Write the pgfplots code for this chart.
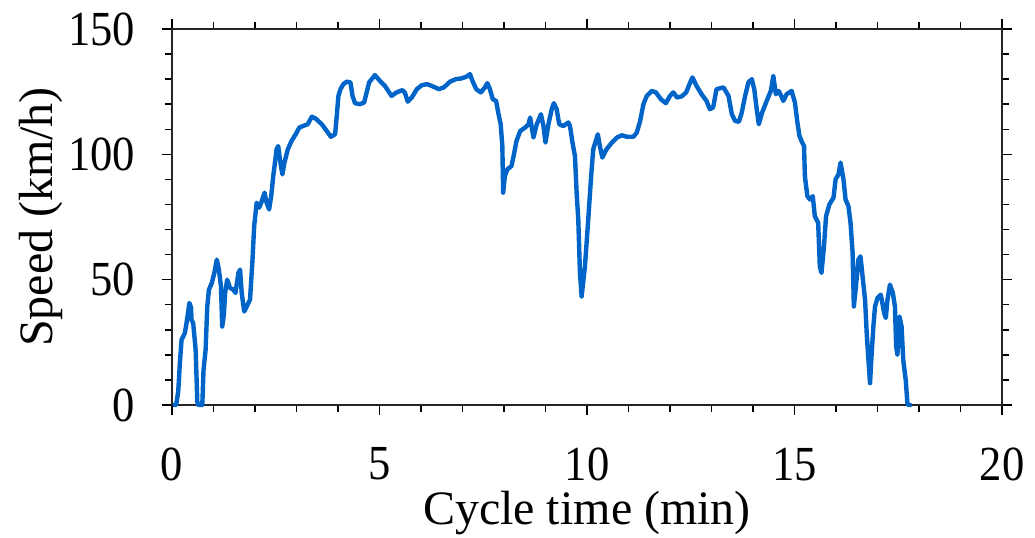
\documentclass[border=0pt]{standalone}
\usepackage{fontspec}
\setmainfont{Liberation Serif}
\newfontfamily\tickfont[FakeStretch=0.91]{Liberation Serif}
\usepackage{pgfplots}
\pgfplotsset{compat=1.18}
\definecolor{speedblue}{RGB}{0,100,200}
\newcommand\bigf{\fontsize{24bp}{28bp}\selectfont}
\newcommand\tickf{\tickfont\fontsize{24.5bp}{28bp}\selectfont}
\begin{document}
\begin{tikzpicture}
\begin{axis}[
  scale only axis,
  width=415bp, height=188bp,
  xmin=0, xmax=20, ymin=0, ymax=150,
  xtick={0,5,10,15,20}, ytick={0,50,100,150},
  minor x tick num=4, minor y tick num=4,
  tick align=outside,
  major tick length=5bp, minor tick length=3.5bp,
  every tick/.style={black, line width=0.7bp},
  axis line style={line width=1bp, black!85},
  /pgf/number format/assume math mode=true,
  tick label style={font=\tickf},
  xticklabel style={inner sep=0pt, yshift=-16.2bp},
  yticklabel style={xshift=-10bp},
  xlabel={Cycle time (min)},
  ylabel={Speed (km/h)},
  label style={font=\bigf, inner sep=0pt},
  xlabel style={at={(axis description cs:0.5,-0.286)}, anchor=center},
  ylabel style={at={(axis description cs:-0.158,0.5)}, anchor=center, rotate=0},
  clip=false,
]
\addplot[speedblue, line width=2.2bp, line join=round] coordinates {
(0.03,0) (0.10,0) (0.15,5.3) (0.19,16.7) (0.23,26) (0.31,28.7) (0.35,32.7) (0.42,40.7) (0.46,38.8) (0.47,34) (0.51,32.7) (0.57,22) (0.61,1.3) (0.63,0) (0.73,0) (0.76,14) (0.81,22) (0.85,39.3) (0.89,46) (0.96,48.7) (1.02,52.7) (1.08,58) (1.13,54) (1.18,47.3) (1.21,31.3) (1.25,36) (1.28,44.7) (1.33,50) (1.40,46.7) (1.48,46) (1.53,44.7) (1.60,52.7) (1.64,54) (1.68,44.7) (1.74,37.3) (1.80,39.3) (1.88,42) (1.94,58) (1.98,71.3) (2.04,80.7) (2.10,78.7) (2.15,80.7) (2.23,84.7) (2.28,80.7) (2.34,78) (2.39,83.3) (2.44,91.3) (2.52,102) (2.56,103.3) (2.60,98) (2.66,92) (2.71,96.7) (2.79,102) (2.88,105.3) (2.98,108) (3.07,110.7) (3.16,111.3) (3.27,112) (3.37,115) (3.46,114.3) (3.61,112) (3.73,109.3) (3.83,107) (3.93,108) (3.97,115.3) (4.01,123.3) (4.06,126) (4.13,128) (4.21,129) (4.30,128.7) (4.35,123.3) (4.41,120.4) (4.53,120) (4.63,120.7) (4.69,124.7) (4.75,128.7) (4.89,131.6) (5.01,129.3) (5.13,127.3) (5.29,123.3) (5.41,124.7) (5.55,125.6) (5.61,124.7) (5.68,121) (5.78,122.7) (5.90,126) (6.02,127.6) (6.15,128) (6.30,127) (6.43,126) (6.55,126.7) (6.70,129) (6.84,130) (6.98,130.3) (7.10,131) (7.18,132) (7.24,129.3) (7.33,126) (7.44,124.7) (7.54,126.7) (7.60,128.4) (7.66,126) (7.73,122) (7.81,121.3) (7.86,116.7) (7.92,112) (7.96,103.3) (7.98,84.7) (8.02,91.3) (8.08,94) (8.18,95.3) (8.24,100) (8.30,105.3) (8.39,109.3) (8.51,110.7) (8.59,112) (8.63,114.7) (8.71,106.7) (8.79,112) (8.89,116) (8.95,111.3) (9.00,104.7) (9.07,112) (9.15,118) (9.20,120.4) (9.27,118) (9.33,112) (9.43,111.3) (9.55,112.7) (9.59,111.3) (9.65,104.7) (9.71,99.3) (9.75,84.7) (9.79,74) (9.83,52.7) (9.87,43.3) (9.95,55.3) (10.03,74) (10.10,91.3) (10.15,102) (10.26,108) (10.31,103.3) (10.37,98.7) (10.47,102) (10.60,104.7) (10.72,106.7) (10.84,107.6) (10.96,107) (11.12,107) (11.20,108.7) (11.28,113.3) (11.36,120) (11.44,123.3) (11.56,125.3) (11.66,124.7) (11.78,122) (11.90,120.4) (12.00,123.3) (12.08,124.7) (12.17,122.7) (12.28,123.1) (12.39,124.7) (12.47,128) (12.54,130.7) (12.64,127.3) (12.76,124) (12.88,121.3) (12.96,118) (13.04,118.7) (13.12,126) (13.29,126.7) (13.41,123.3) (13.49,116) (13.57,113.3) (13.66,113) (13.73,116.7) (13.81,123.3) (13.89,128.7) (13.97,130) (14.03,126) (14.09,118) (14.14,112) (14.22,116.7) (14.33,121.3) (14.43,125.3) (14.49,131.3) (14.55,124) (14.62,125.3) (14.68,123.3) (14.73,121.3) (14.81,124) (14.93,125.3) (15.01,120.7) (15.07,112.7) (15.12,107.3) (15.17,105.3) (15.23,103.3) (15.25,91.3) (15.31,83.3) (15.37,82) (15.44,83.3) (15.49,75.3) (15.57,72.7) (15.61,55.3) (15.65,52.7) (15.71,63.3) (15.76,75.3) (15.84,80) (15.94,82.7) (15.99,90) (16.06,92) (16.11,96.7) (16.18,90) (16.23,82) (16.30,79.3) (16.35,72.7) (16.40,60.7) (16.43,39.3) (16.48,47.3) (16.54,58) (16.59,59.3) (16.64,51.3) (16.70,42) (16.74,28.7) (16.77,20.7) (16.82,8.7) (16.86,20.7) (16.90,31.3) (16.94,39.3) (17.00,42.7) (17.08,44) (17.16,36.7) (17.20,34.7) (17.24,42) (17.30,48) (17.37,44.7) (17.42,39.3) (17.45,23.3) (17.48,20) (17.53,35.3) (17.58,31.3) (17.62,18) (17.68,10) (17.72,0.7) (17.74,0) (17.82,0)
};
\end{axis}
\pgfresetboundingbox
\path[use as bounding box] (-86bp,-66.5bp) rectangle (431.5bp,202.5bp);
\end{tikzpicture}
\end{document}
